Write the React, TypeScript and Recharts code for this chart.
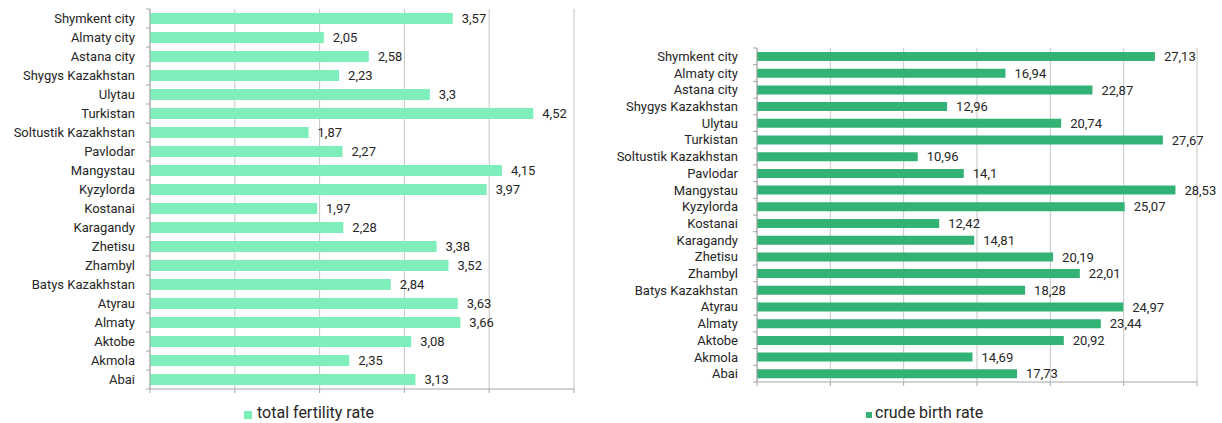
import React from "react";
import {
	Bar,
	BarChart,
	CartesianGrid,
	LabelList,
	XAxis,
	YAxis,
} from "recharts";

const regions = [
	"Shymkent city",
	"Almaty city",
	"Astana city",
	"Shygys Kazakhstan",
	"Ulytau",
	"Turkistan",
	"Soltustik Kazakhstan",
	"Pavlodar",
	"Mangystau",
	"Kyzylorda",
	"Kostanai",
	"Karagandy",
	"Zhetisu",
	"Zhambyl",
	"Batys Kazakhstan",
	"Atyrau",
	"Almaty",
	"Aktobe",
	"Akmola",
	"Abai",
];
const fertilityRate = [
	3.57, 2.05, 2.58, 2.23, 3.3, 4.52, 1.87, 2.27, 4.15, 3.97, 1.97, 2.28, 3.38,
	3.52, 2.84, 3.63, 3.66, 3.08, 2.35, 3.13,
];
const birthRate = [
	27.13, 16.94, 22.87, 12.96, 20.74, 27.67, 10.96, 14.1, 28.53, 25.07, 12.42,
	14.81, 20.19, 22.01, 18.28, 24.97, 23.44, 20.92, 14.69, 17.73,
];
const fertilityTicks = [0, 1, 2, 3, 4, 5];
const birthTicks = [0, 5, 10, 15, 20, 25, 30];

const fertilityData = regions.map((name, i) => ({ name, value: fertilityRate[i] }));
const birthData = regions.map((name, i) => ({ name, value: birthRate[i] }));

const AXIS = "#a6a6a6";
const GRID = "#c4c4c4";
const TEXT = "#262626";
const FONT = "Roboto, 'Noto Sans', sans-serif";

const fmt = (v: number) => String(v).replace(".", ",");

// category labels with tick marks on the band edges, like the excel original
const CategoryTick = (props: any) => {
	const { x, y, payload, index, gap, count } = props;
	const ax = x + gap;
	const half = payload?.offset ?? 0;
	return (
		<g>
			<text
				x={x}
				y={y}
				dy="0.355em"
				textAnchor="end"
				fontSize={13}
				fill={TEXT}
				fontFamily={FONT}
			>
				{payload.value}
			</text>
			<line x1={ax - 4} x2={ax} y1={y - half} y2={y - half} stroke={AXIS} />
			{index === count - 1 && (
				<line x1={ax - 4} x2={ax} y1={y + half} y2={y + half} stroke={AXIS} />
			)}
		</g>
	);
};

interface PanelProps {
	data: { name: string; value: number }[];
	ticks: number[];
	color: string;
	barSize: number;
	labelGap: number;
	width: number;
	margin: { top: number; right: number; left: number; bottom: number };
}

const Panel: React.FC<PanelProps> = ({ data, ticks, color, barSize, labelGap, width, margin }) => (
	<BarChart
		width={width}
		height={395}
		data={data}
		layout="vertical"
		margin={margin}
		style={{ fontFamily: FONT }}
	>
		<CartesianGrid horizontal={false} stroke={GRID} />
		<XAxis
			type="number"
			domain={[ticks[0], ticks[ticks.length - 1]]}
			ticks={ticks}
			tickFormatter={() => ""}
			tickSize={4}
			height={4}
			stroke={AXIS}
			axisLine={{ stroke: AXIS }}
			tickLine={{ stroke: AXIS }}
		/>
		<YAxis
			type="category"
			dataKey="name"
			width={150}
			tickSize={4}
			tickMargin={labelGap - 4}
			tickLine={false}
			axisLine={{ stroke: AXIS }}
			interval={0}
			tick={(p: any) => (
				<CategoryTick {...p} gap={labelGap} count={data.length} />
			)}
		/>
		<Bar dataKey="value" fill={color} barSize={barSize} isAnimationActive={false}>
			<LabelList
				dataKey="value"
				position="right"
				offset={9}
				formatter={(v: any) => fmt(Number(v))}
				style={{ fontSize: 13, fill: TEXT, fontFamily: FONT }}
			/>
		</Bar>
	</BarChart>
);

const LegendItem: React.FC<{ left: number; color: string; size: number; gap: number; label: string }> = ({
	left,
	color,
	size,
	gap,
	label,
}) => (
	<div
		style={{
			position: "absolute",
			left,
			top: 403,
			display: "flex",
			alignItems: "center",
			fontFamily: FONT,
			fontSize: 16,
			color: TEXT,
			lineHeight: "20px",
		}}
	>
		<span
			style={{
				display: "inline-block",
				width: size,
				height: size,
				background: color,
				marginRight: gap,
				marginTop: 4,
			}}
		/>
		{label}
	</div>
);

export default function App() {
	return (
		<div style={{ position: "absolute", left: 0, top: 0, width: 1222, height: 423, background: "#fff" }}>
			<div style={{ position: "absolute", left: 0, top: 0 }}>
				<Panel
					data={fertilityData}
					ticks={fertilityTicks}
					color="#7eeeba"
					barSize={11}
					labelGap={15}
					width={600}
					margin={{ top: 9, right: 26, left: 0, bottom: 2 }}
				/>
			</div>
			<div style={{ position: "absolute", left: 607, top: 0 }}>
				<Panel
					data={birthData}
					ticks={birthTicks}
					color="#33b276"
					barSize={9}
					labelGap={19}
					width={615}
					margin={{ top: 48, right: 25, left: 0, bottom: 9 }}
				/>
			</div>
			<LegendItem left={244} color="#7eeeba" size={8} gap={5} label="total fertility rate" />
			<LegendItem left={866} color="#33b276" size={6} gap={3} label="crude birth rate" />
		</div>
	);
}
